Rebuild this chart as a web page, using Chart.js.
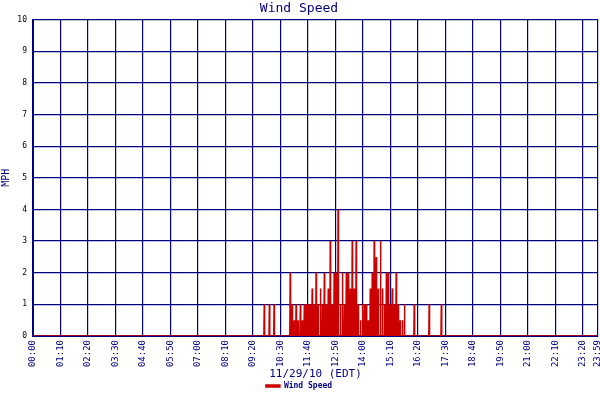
<!DOCTYPE html>
<html><head><script src="https://cdn.jsdelivr.net/npm/chart.js@4"></script>
<style>body{margin:0;background:#fff}#w{width:600px;height:400px}</style></head>
<body><div id="w"><canvas id="c"></canvas></div>
<script>
const spikeMinutes=[589,602,614,655,660,665,670,675,681,686,691,696,701,706,711,716,721,726,732,737,742,747,752,757,762,767,772,777,783,788,793,798,803,808,813,818,823,828,834,839,844,849,854,859,864,869,874,879,885,890,895,900,905,910,915,920,925,930,935,941,946,971,1009,1040];
const spikeValues=[1,1,1,2,1,0.5,1,0.5,1,0.5,1,1,1,1,1.5,1,2,1,1.5,1,2,1,1.5,3,1,2,2,4,1,2,1,2,2,1.5,3,1.5,3,1,0.5,1,1,1,0.5,1.5,2,3,2.5,1.5,3,1.5,1,2,2,1,1.5,1,2,1,0.5,0.5,1,1,1,1];
const yTicks=[0,1,2,3,4,5,6,7,8,9,10];
const xTickMinutes=[0,70,140,210,280,350,420,490,560,630,700,770,840,910,980,1050,1120,1190,1260,1330,1400,1439];
const pts=[{x:0,y:0}];
spikeMinutes.forEach((t,i)=>{pts.push({x:t-1,y:0},{x:t,y:spikeValues[i]},{x:t+1,y:0});});
pts.push({x:1439,y:0});
const fmt=m=>String(Math.floor(m/60)).padStart(2,'0')+':'+String(m%60).padStart(2,'0');
const F='DejaVu Sans Mono';
new Chart(document.getElementById('c'),{type:'line',
data:{datasets:[{label:'Wind Speed',data:pts,borderColor:'#cc0000',backgroundColor:'#cc0000',borderWidth:1.5,pointRadius:0,tension:0}]},
options:{responsive:true,maintainAspectRatio:false,animation:false,
layout:{padding:{left:0,right:2,top:0,bottom:0}},
plugins:{title:{display:true,text:'Wind Speed',color:'#000080',font:{family:F,size:13,weight:'normal'},padding:{top:1,bottom:3}},
legend:{position:'bottom',labels:{color:'#000080',font:{family:F,size:8,weight:'bold'},boxWidth:14,boxHeight:2,padding:1}},tooltip:{enabled:false}},
scales:{
x:{type:'linear',min:0,max:1439,afterBuildTicks:a=>{a.ticks=xTickMinutes.map(v=>({value:v}));},
ticks:{autoSkip:false,maxRotation:90,minRotation:90,color:'#000080',font:{family:F,size:9},callback:v=>fmt(v),padding:4},
grid:{color:'#000080',lineWidth:1.2,drawTicks:false},border:{color:'#000080',width:2},
title:{display:true,text:'11/29/10 (EDT)',color:'#000080',font:{family:F,size:11},padding:{top:2,bottom:0}},
afterFit:a=>{a.height=45;a.paddingRight=0;a.paddingLeft=0;}},
y:{min:0,max:10,afterBuildTicks:a=>{a.ticks=yTicks.map(v=>({value:v}));},
ticks:{color:'#000',font:{family:F,size:8},padding:6},
grid:{color:'#000080',lineWidth:1.2,drawTicks:false},border:{color:'#000080',width:2},
title:{display:true,text:'MPH',color:'#000080',font:{family:F,size:10},padding:0},
afterFit:a=>{a.width=33;}}}}});
</script></body></html>
